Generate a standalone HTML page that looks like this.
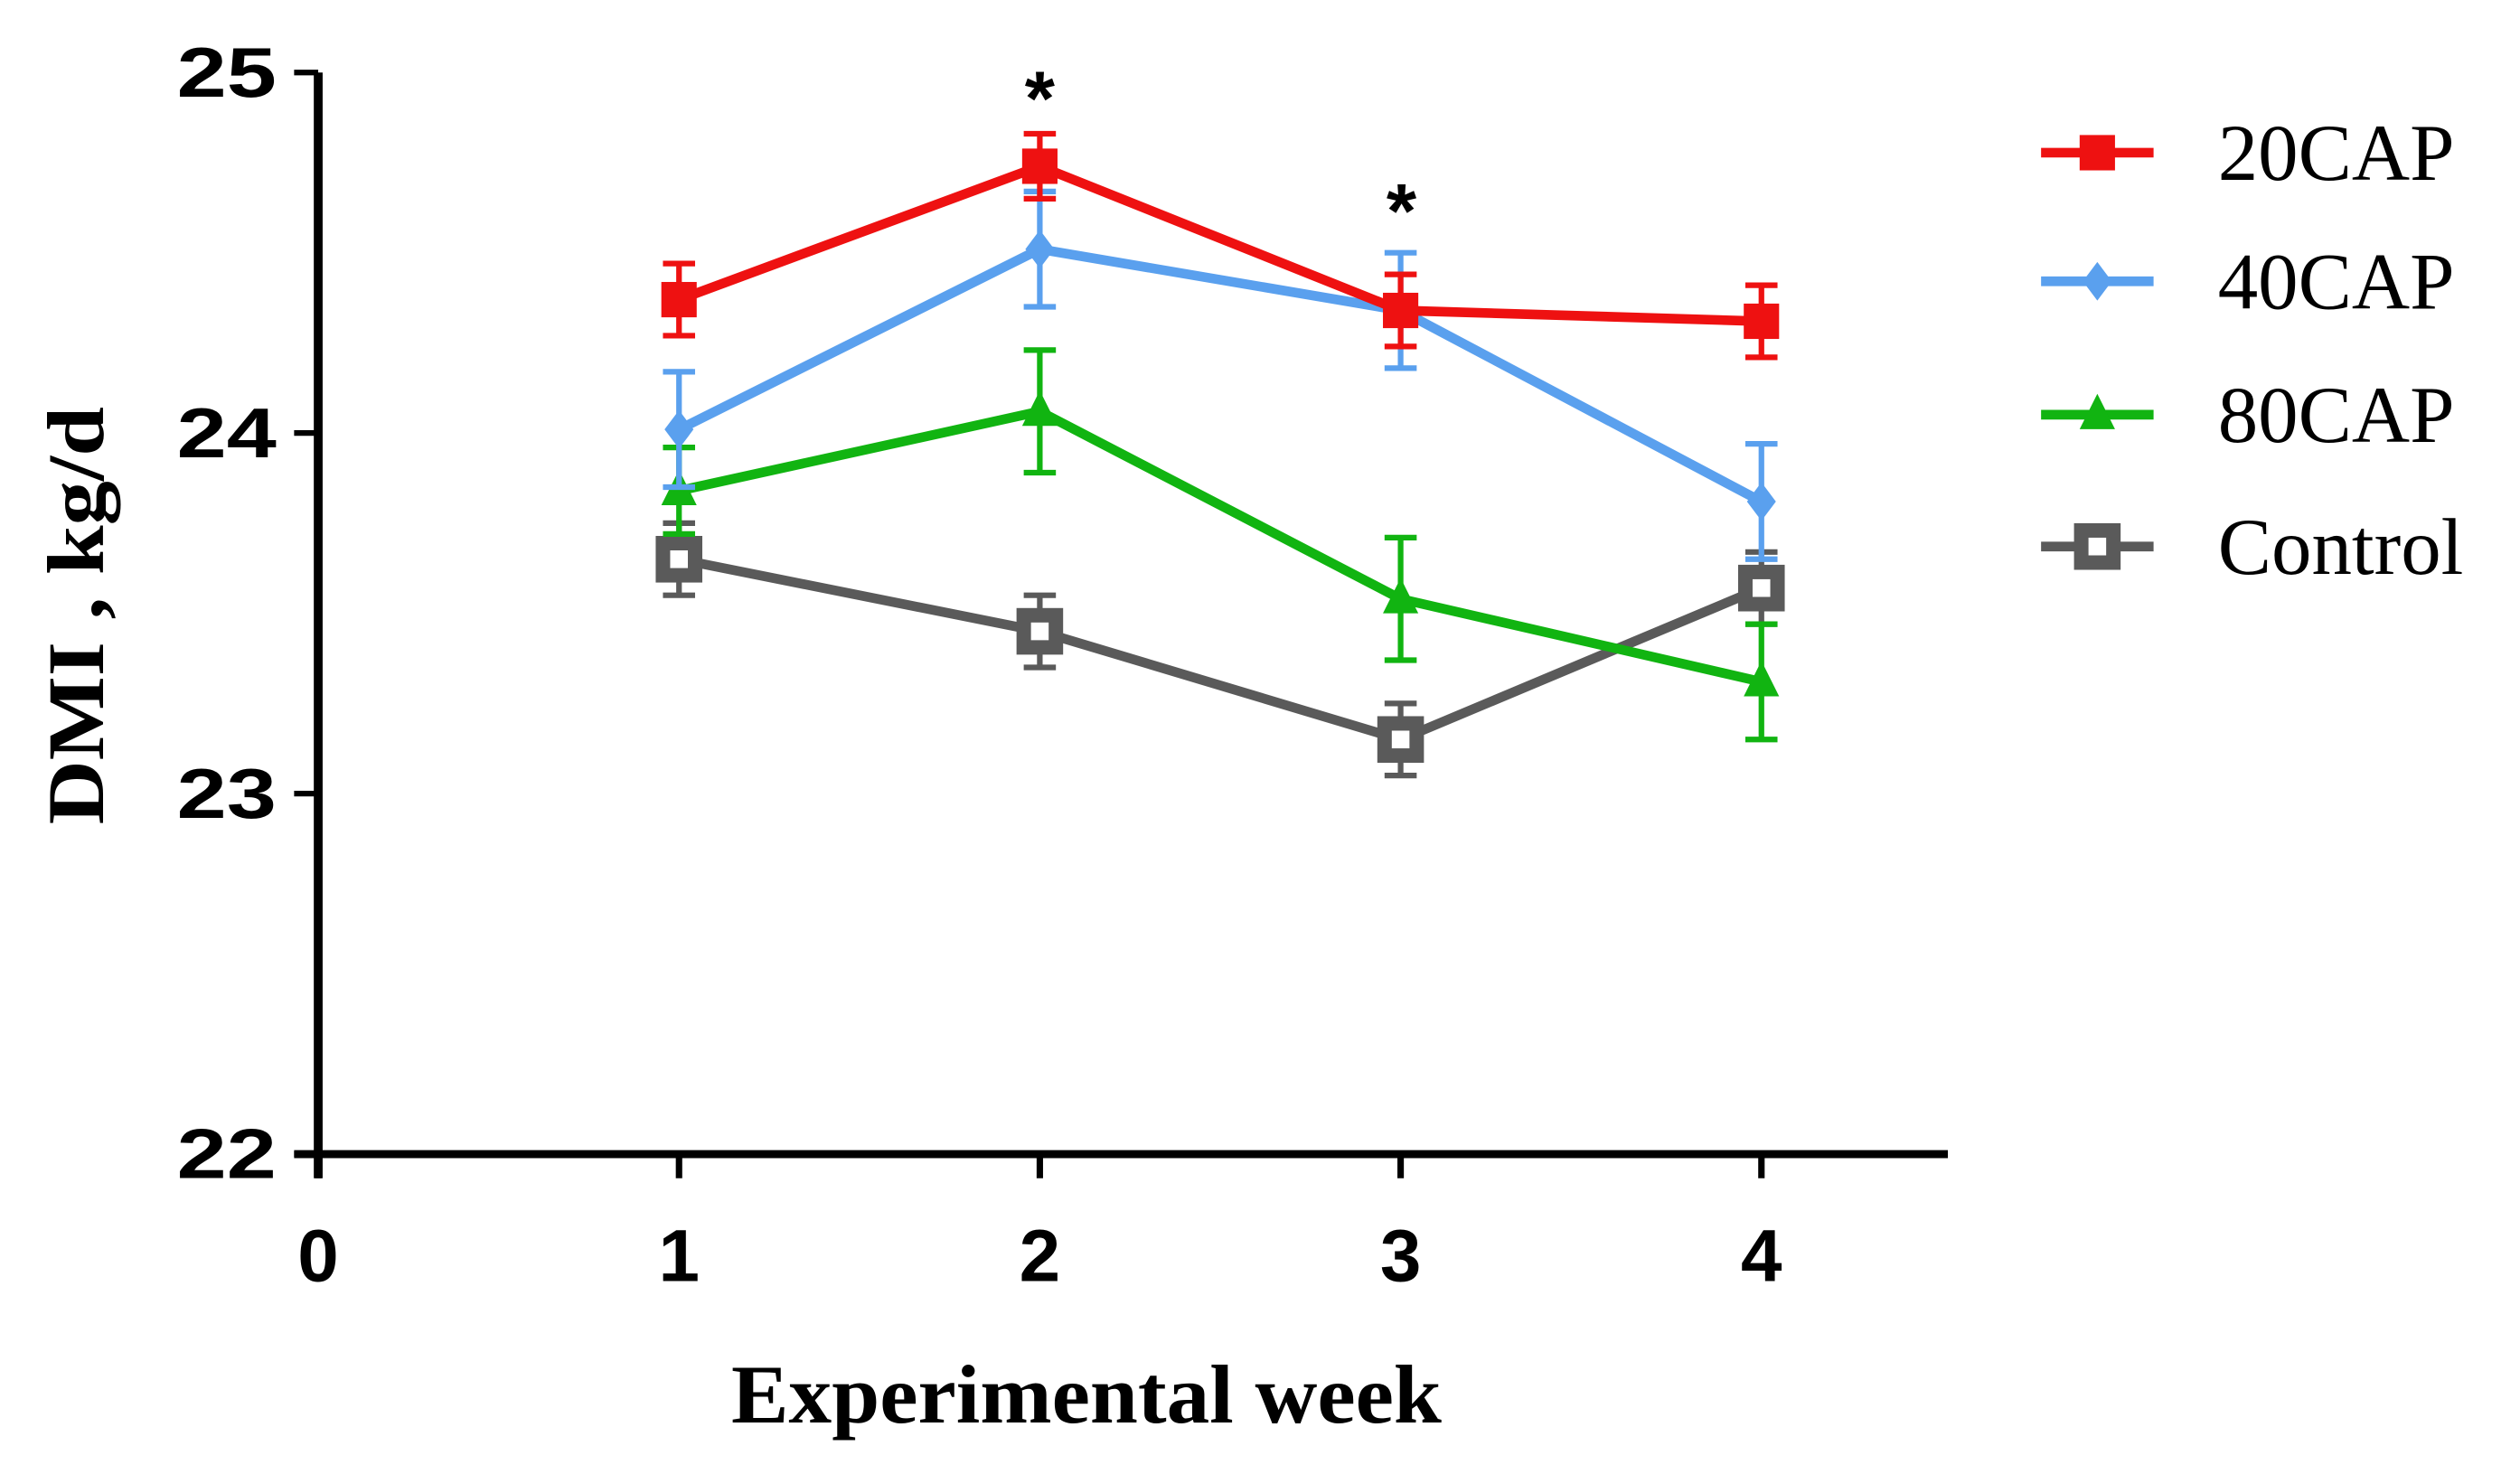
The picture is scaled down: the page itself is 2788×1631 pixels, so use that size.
<!DOCTYPE html>
<html><head><meta charset="utf-8"><style>html,body{margin:0;padding:0;background:#fff}svg{display:block}</style></head>
<body>
<svg id="chart" width="2788" height="1631" viewBox="0 0 1568 917" preserveAspectRatio="none" xmlns="http://www.w3.org/2000/svg">
<g id="axes"></g>
<g id="plot"></g>
<text transform="translate(64,383) rotate(-90)" text-anchor="middle" font-family="Liberation Serif, serif" font-size="50" font-weight="bold" textLength="260" lengthAdjust="spacingAndGlyphs">DMI , kg/d</text>
<text x="676" y="885" text-anchor="middle" font-family="Liberation Serif, serif" font-size="52" font-weight="bold" textLength="442" lengthAdjust="spacingAndGlyphs">Experimental week</text>
<text x="647" y="78" text-anchor="middle" font-family="Liberation Sans, sans-serif" font-size="48" font-weight="bold">*</text>
<text x="872" y="148" text-anchor="middle" font-family="Liberation Sans, sans-serif" font-size="48" font-weight="bold">*</text>
<g id="legend"></g>
</svg>
<script>
const weeks = [1, 2, 3, 4];
const seriesNames = ["20CAP", "40CAP", "80CAP", "Control"];
const seriesColors = ["#ee1111", "#5aa0ee", "#11b411", "#5a5a5a"];
const cap20 = [24.37, 24.74, 24.34, 24.31];
const cap20Err = [0.10, 0.09, 0.10, 0.10];
const cap40 = [24.01, 24.51, 24.34, 23.81];
const cap40Err = [0.16, 0.16, 0.16, 0.16];
const cap80 = [23.84, 24.06, 23.54, 23.31];
const cap80Err = [0.12, 0.17, 0.17, 0.16];
const control = [23.65, 23.45, 23.15, 23.57];
const controlErr = [0.10, 0.10, 0.10, 0.10];
const yTicks = [22, 23, 24, 25];
const xTicks = [0, 1, 2, 3, 4];

const NS = "http://www.w3.org/2000/svg";
const X0 = 198, XU = 224.5, Y22 = 718, YU = 224.3;
const xs = v => X0 + v * XU;
const ys = v => Y22 - (v - 22) * YU;
function mk(tag, attrs, parent) {
  const e = document.createElementNS(NS, tag);
  for (const k in attrs) e.setAttribute(k, attrs[k]);
  parent.appendChild(e);
  return e;
}
const axes = document.getElementById("axes");
const plot = document.getElementById("plot");
const legend = document.getElementById("legend");

let el = mk("line", {x1: X0, y1: ys(25), x2: X0, y2: Y22 + 15, stroke: "#000", "stroke-width": 5.5}, axes);


el = mk("line", {x1: X0 - 15, y1: Y22, x2: 1212, y2: Y22, stroke: "#000", "stroke-width": 5}, axes);



yTicks.forEach(t => {
  const tk = mk("line", {x1: X0 - 15, y1: ys(t), x2: X0, y2: ys(t), stroke: "#000", "stroke-width": 3.5}, axes);
  
  
  const lb = mk("text", {x: 172, y: ys(t) + 15, "text-anchor": "end", "font-family": "Liberation Sans, sans-serif", "font-size": 44, "font-weight": "bold", textLength: 62, lengthAdjust: "spacingAndGlyphs"}, axes);
  lb.textContent = t;
  
  
});
xTicks.forEach(t => {
  const tk = mk("line", {x1: xs(t), y1: Y22, x2: xs(t), y2: Y22 + 15, stroke: "#000", "stroke-width": 4}, axes);
  
  
  const lb = mk("text", {x: xs(t), y: 797, "text-anchor": "middle", "font-family": "Liberation Sans, sans-serif", "font-size": 46, "font-weight": "bold"}, axes);
  lb.textContent = t;
  
  
});

function marker(kind, cx, cy, color, parent) {
  let m;
  if (kind === 0) m = mk("rect", {x: cx - 11, y: cy - 11, width: 22, height: 22, fill: color}, parent);
  else if (kind === 1) m = mk("polygon", {points: `${cx},${cy-12} ${cx+9},${cy} ${cx},${cy+12} ${cx-9},${cy}`, fill: color}, parent);
  else if (kind === 2) m = mk("polygon", {points: `${cx},${cy-13} ${cx+11},${cy+9} ${cx-11},${cy+9}`, fill: color}, parent);
  else {
    m = mk("rect", {x: cx - 10, y: cy - 10, width: 20, height: 20, fill: "#fff", stroke: color, "stroke-width": 9}, parent);
  }
  return m;
}

const allVals = [cap20, cap40, cap80, control];
const allErr = [cap20Err, cap40Err, cap80Err, controlErr];
const order = [3, 2, 1, 0];
order.forEach(s => {
  const g = mk("g", {}, plot);
  
  
  const c = seriesColors[s];
  allVals[s].forEach((v, i) => {
    const x = xs(weeks[i]), e = allErr[s][i];
    const eb = mk("path", {d: `M${x},${ys(v+e)}V${ys(v-e)}M${x-10},${ys(v+e)}H${x+10}M${x-10},${ys(v-e)}H${x+10}`, stroke: c, "stroke-width": 3.5, fill: "none"}, g);
    
    
  });
  const pl = mk("polyline", {points: allVals[s].map((v, i) => xs(weeks[i]) + "," + ys(v)).join(" "), stroke: c, "stroke-width": 6, fill: "none"}, g);
  
  
  allVals[s].forEach((v, i) => {
    const m = marker(s, xs(weeks[i]), ys(v), c, g);
    
    
  });
});

const legY = [95, 175, 258, 340];
seriesNames.forEach((n, s) => {
  const g = mk("g", {}, legend);
  
  
  mk("line", {x1: 1270, y1: legY[s], x2: 1340, y2: legY[s], stroke: seriesColors[s], "stroke-width": 6}, g);
  marker(s, 1305, legY[s], seriesColors[s], g);
  const t = mk("text", {x: 1380, y: legY[s] + 17, "font-family": "Liberation Serif, serif", "font-size": 50}, g);
  t.textContent = n;
});
</script>
</body></html>
